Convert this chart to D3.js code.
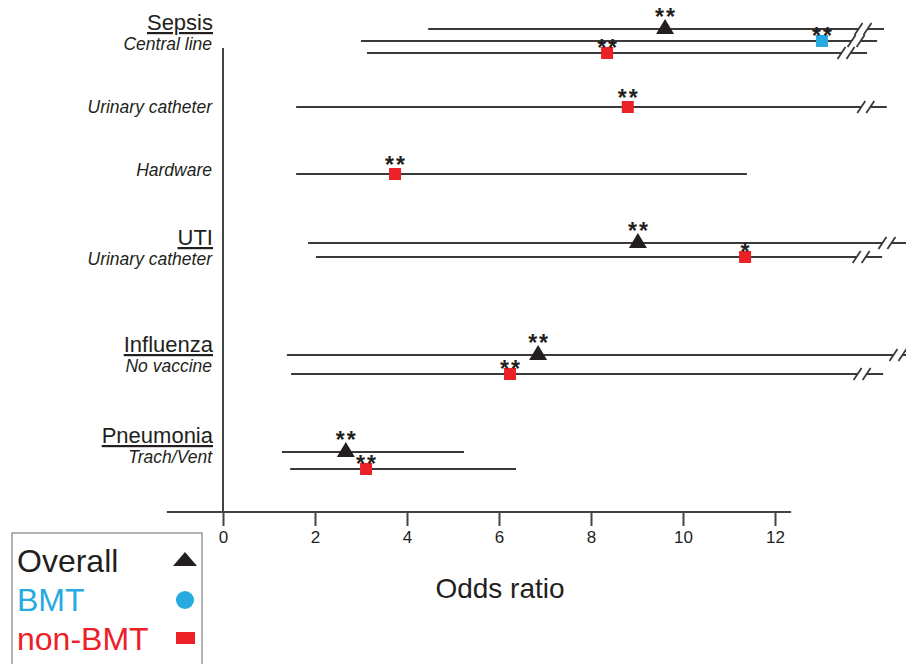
<!DOCTYPE html>
<html>

<head>
  <title>Odds ratio</title>
  <script type="text/javascript" src="https://cdn.jsdelivr.net/npm/d3@7"></script>
  <style>
    body {
      margin: 0;
      background-color: white;
    }

    text {
      font-family: "Liberation Sans", Arial, sans-serif;
    }
  </style>
</head>

<body>
  <script type="text/javascript">

    // Rækker (gruppe + undertekst)
    const rowKeys = ["sepsis-cl", "sepsis-uc", "sepsis-hw", "uti-uc", "flu-nv", "pneu-tv"];
    const groupLabels = ["Sepsis", "", "", "UTI", "Influenza", "Pneumonia"];
    const subLabels = ["Central line", "Urinary catheter", "Hardware", "Urinary catheter", "No vaccine", "Trach/Vent"];

    // Estimater
    const entryRow = ["sepsis-cl", "sepsis-cl", "sepsis-cl", "sepsis-uc", "sepsis-hw", "uti-uc", "uti-uc", "flu-nv", "flu-nv", "pneu-tv", "pneu-tv"];
    const entrySeries = ["Overall", "BMT", "non-BMT", "non-BMT", "non-BMT", "Overall", "non-BMT", "Overall", "non-BMT", "Overall", "non-BMT"];
    const oddsRatio = [9.61, 13.02, 8.35, 8.8, 3.74, 9.02, 11.35, 6.85, 6.24, 2.67, 3.11];
    const ciLower = [4.46, 3.0, 3.13, 1.59, 1.59, 1.85, 2.02, 1.39, 1.48, 1.28, 1.46];
    const ciUpperShown = [14.37, 14.22, 14.0, 14.43, 11.39, 14.89, 14.33, 15.13, 14.35, 5.24, 6.37];
    const truncated = [true, true, true, true, false, true, true, true, true, false, false];
    const significance = ["**", "**", "**", "**", "**", "**", "*", "**", "**", "**", "**"];

    // Akse
    const xTicks = [0, 2, 4, 6, 8, 10, 12];
    const seriesNames = ["Overall", "BMT", "non-BMT"];
    const seriesColors = ["#231f20", "#27aae1", "#ec2027"];

    const w = 906;
    const h = 664;

    const data = oddsRatio.map(function (d, i) {
      return {
        row: entryRow[i], series: entrySeries[i], or: d,
        lo: ciLower[i], hi: ciUpperShown[i], cut: truncated[i], sig: significance[i]
      };
    });

    const xScale = d3.scaleLinear()
      .domain([0, 12])
      .range([223, 775]);

    // y for midten af hver række
    const rowY = d3.scaleOrdinal()
      .domain(rowKeys)
      .range([41, 107, 174, 250, 364.5, 460.5]);
    // afstand mellem linjer i samme række
    const rowSpread = d3.scaleOrdinal()
      .domain(rowKeys)
      .range([24, 0, 0, 14, 19, 17]);
    const labelY = d3.scaleOrdinal()
      .domain(rowKeys)
      .range([50, 113, 176, 265, 372, 463]);

    const color = d3.scaleOrdinal().domain(seriesNames).range(seriesColors);

    function rowMembers(d) {
      return data.filter(function (e) { return e.row === d.row; })
        .map(function (e) { return e.series; });
    }

    function yPos(d) {
      const inRow = rowMembers(d);
      const s = rowSpread(d.row);
      const p = d3.scalePoint().domain(inRow).range([-s / 2, s / 2]);
      return rowY(d.row) + (inRow.length > 1 ? p(d.series) : 0);
    }

    const svg = d3.select("body")
      .append("svg")
      .attr("width", w)
      .attr("height", h);

    // akser
    svg.append("line")
      .attr("x1", xScale(0)).attr("x2", xScale(0))
      .attr("y1", 48).attr("y2", 512)
      .attr("stroke", "#444").attr("stroke-width", 2);

    svg.append("line")
      .attr("x1", xScale(-1.22)).attr("x2", xScale(12.35))
      .attr("y1", 512).attr("y2", 512)
      .attr("stroke", "#444").attr("stroke-width", 2);

    const xAxis = svg.append("g")
      .attr("transform", "translate(0,512)")
      .call(d3.axisBottom(xScale).tickValues(xTicks).tickSize(14).tickSizeOuter(0).tickPadding(5));
    xAxis.select(".domain").remove();
    xAxis.selectAll(".tick line").attr("stroke", "#444").attr("stroke-width", 2);
    xAxis.selectAll(".tick text")
      .attr("font-family", "'Liberation Sans', Arial, sans-serif")
      .attr("font-size", "17px")
      .attr("fill", "#231f20");

    svg.append("text")
      .attr("x", 500).attr("y", 598)
      .attr("text-anchor", "middle")
      .attr("font-size", "28px")
      .attr("fill", "#231f20")
      .text("Odds ratio");

    // række-labels
    rowKeys.forEach(function (k, i) {
      svg.append("text")
        .attr("x", 212).attr("y", labelY(k))
        .attr("text-anchor", "end")
        .attr("font-size", "17.5px")
        .attr("font-style", "italic")
        .attr("fill", "#231f20")
        .text(subLabels[i]);
      if (groupLabels[i] !== "") {
        svg.append("text")
          .attr("x", 213).attr("y", labelY(k) - 20)
          .attr("text-anchor", "end")
          .attr("font-size", "22px")
          .attr("fill", "#231f20")
          .attr("text-decoration", "underline")
          .text(groupLabels[i]);
      }
    });

    // CI-linjer
    const gap = 9;
    data.forEach(function (d) {
      const y = yPos(d);
      const x0 = xScale(d.lo);
      const x1 = xScale(d.hi);
      if (!d.cut) {
        svg.append("line")
          .attr("x1", x0).attr("x2", x1).attr("y1", y).attr("y2", y)
          .attr("stroke", "#3a3a3a").attr("stroke-width", 2);
      } else {
        const bx = x1 - 21;
        svg.append("line")
          .attr("x1", x0).attr("x2", bx - gap / 2).attr("y1", y).attr("y2", y)
          .attr("stroke", "#3a3a3a").attr("stroke-width", 2);
        svg.append("line")
          .attr("x1", bx + gap / 2).attr("x2", x1).attr("y1", y).attr("y2", y)
          .attr("stroke", "#3a3a3a").attr("stroke-width", 2);
        [-gap / 2, gap / 2].forEach(function (off) {
          svg.append("line")
            .attr("x1", bx + off - 4).attr("x2", bx + off + 4)
            .attr("y1", y + 6).attr("y2", y - 6)
            .attr("stroke", "#3a3a3a").attr("stroke-width", 1.8);
        });
      }
    });

    // markører
    data.forEach(function (d) {
      const y = yPos(d);
      const x = xScale(d.or);
      let starY;
      if (d.series === "Overall") {
        svg.append("path")
          .attr("d", "M" + x + "," + (y - 10) + "L" + (x + 9) + "," + (y + 5) + "L" + (x - 9) + "," + (y + 5) + "Z")
          .attr("fill", color(d.series));
        starY = y - 4;
      } else {
        svg.append("rect")
          .attr("x", x - 6).attr("y", y - 6)
          .attr("width", 12).attr("height", 12)
          .attr("fill", color(d.series));
        // tættere på når der ligger en linje lige over
        starY = rowMembers(d).length > 1 ? y + 3 : y - 1;
      }
      svg.append("text")
        .attr("x", x).attr("y", starY)
        .attr("dx", 1)
        .attr("text-anchor", "middle")
        .attr("font-size", "23px")
        .attr("font-weight", "bold")
        .attr("letter-spacing", "2px")
        .attr("fill", "#231f20")
        .text(d.sig);
    });

    // legend
    const legend = svg.append("g");
    legend.append("rect")
      .attr("x", 12).attr("y", 533)
      .attr("width", 190).attr("height", 140)
      .attr("fill", "white")
      .attr("stroke", "#999").attr("stroke-width", 1.5);

    seriesNames.forEach(function (s, i) {
      const by = 572 + i * 39;
      legend.append("text")
        .attr("x", 17).attr("y", by)
        .attr("font-size", "32px")
        .attr("fill", color(s))
        .text(s);
      const cy = by - 12;
      if (i === 0) {
        legend.append("path")
          .attr("d", "M185," + (cy - 8) + "L197," + (cy + 6) + "L173," + (cy + 6) + "Z")
          .attr("fill", color(s));
      } else if (i === 1) {
        legend.append("circle")
          .attr("cx", 185).attr("cy", cy + 1).attr("r", 9)
          .attr("fill", color(s));
      } else {
        legend.append("rect")
          .attr("x", 176).attr("y", cy - 6)
          .attr("width", 19).attr("height", 12)
          .attr("fill", color(s));
      }
    });

  </script>
</body>

</html>
